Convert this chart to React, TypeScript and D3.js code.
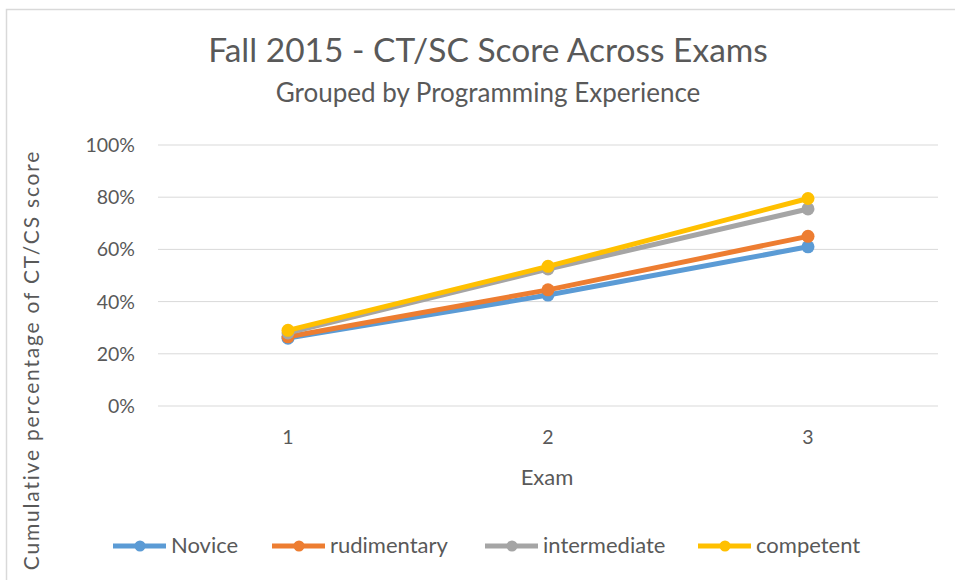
import React from "react";
import * as d3 from "d3";

const width = 955;
const height = 580;
const margin = { top: 145, right: 17, bottom: 174, left: 158 };

const exams = ["1", "2", "3"];
const seriesNames = ["Novice", "rudimentary", "intermediate", "competent"];
const seriesColors = ["#5b9bd5", "#ed7d31", "#a5a5a5", "#ffc000"];
const novice = [0.26, 0.425, 0.61];
const rudimentary = [0.265, 0.445, 0.65];
const intermediate = [0.28, 0.525, 0.755];
const competent = [0.29, 0.535, 0.795];
const yTicks = [0, 0.2, 0.4, 0.6, 0.8, 1];
const legendX = [113, 272, 485, 698];

const font = "Lato, 'Open Sans', sans-serif";

export default function App() {
  const values = [novice, rudimentary, intermediate, competent];
  const xScale = d3
    .scaleBand()
    .domain(exams)
    .range([margin.left, width - margin.right]);
  const yScale = d3
    .scaleLinear()
    .domain([0, 1])
    .range([height - margin.bottom, margin.top]);
  const cx = (e: string) => (xScale(e) as number) + xScale.bandwidth() / 2;

  const line = d3
    .line<number>()
    .x((d, i) => cx(exams[i]))
    .y(d => yScale(d));

  return (
    <svg
      width={width}
      height={height}
      style={{ position: "absolute", left: 0, top: 0, fontFamily: font }}
    >
      <rect width={width} height={height} fill="#ffffff" />
      <rect x={6.5} y={9.5} width={width} height={height} fill="none" stroke="#d9d9d9" strokeWidth={1.5} />
      {/* title */}
      <text x={488} y={62} textAnchor="middle" fontSize={33.5} fill="#595959">
        Fall 2015 - CT/SC Score Across Exams
      </text>
      <text x={488} y={102} textAnchor="middle" fontSize={26} fill="#595959">
        Grouped by Programming Experience
      </text>
      {/* gridlines */}
      {yTicks.map(t => (
        <g key={t}>
          <line
            x1={margin.left}
            x2={width - margin.right}
            y1={yScale(t)}
            y2={yScale(t)}
            stroke="#d9d9d9"
            strokeWidth={1}
          />
          <text x={135} y={yScale(t) + 7} textAnchor="end" fontSize={19.5} fill="#595959">
            {d3.format(".0%")(t)}
          </text>
        </g>
      ))}
      {exams.map(e => (
        <text key={e} x={cx(e)} y={444} textAnchor="middle" fontSize={19.5} fill="#595959">
          {e}
        </text>
      ))}
      <text x={547} y={485} textAnchor="middle" fontSize={22} fill="#595959">
        Exam
      </text>
      <text
        transform="translate(39,360) rotate(-90)"
        textAnchor="middle"
        fontSize={21}
        fill="#595959"
        letterSpacing={1.8}
      >
        Cumulative percentage of CT/CS score
      </text>
      {/* series */}
      {values.map((vals, si) => (
        <g key={seriesNames[si]}>
          <path d={line(vals) || ""} fill="none" stroke={seriesColors[si]} strokeWidth={5} strokeLinecap="round" />
          {vals.map((v, i) => (
            <circle key={i} cx={cx(exams[i])} cy={yScale(v)} r={6.5} fill={seriesColors[si]} />
          ))}
        </g>
      ))}
      {/* legend */}
      {seriesNames.map((n, i) => (
        <g key={n} transform={`translate(${legendX[i]},546)`}>
          <line x1={0} x2={53} y1={0} y2={0} stroke={seriesColors[i]} strokeWidth={5} />
          <circle cx={27} cy={0} r={5.5} fill={seriesColors[i]} />
          <text x={58} y={7} fontSize={22} fill="#595959">
            {n}
          </text>
        </g>
      ))}
    </svg>
  );
}
